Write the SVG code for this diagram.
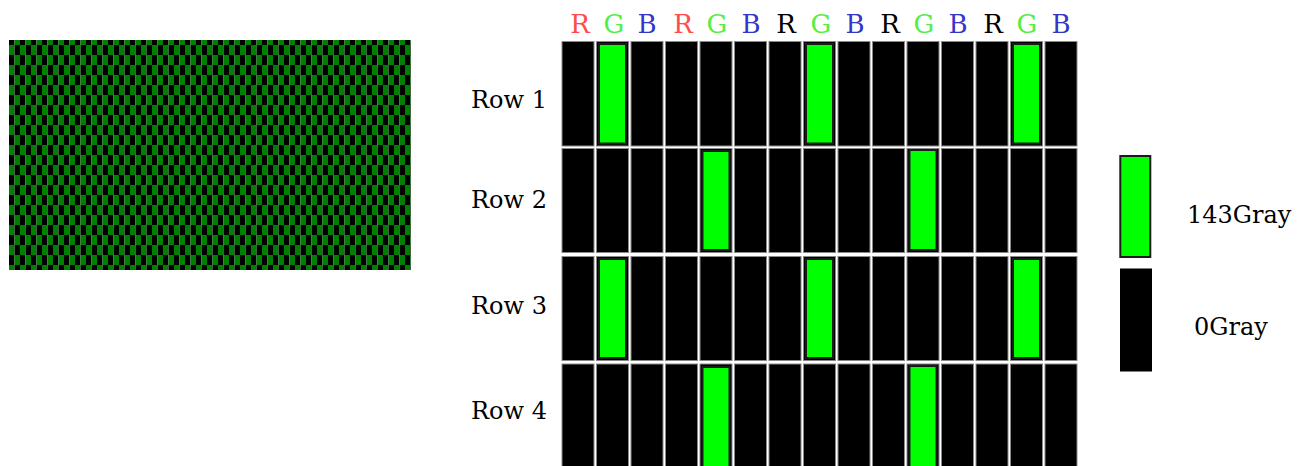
<svg xmlns="http://www.w3.org/2000/svg" width="1300" height="466" viewBox="0 0 1300 466">
<style>
.lbl{font-family:"DejaVu Serif","Liberation Serif",serif;font-size:24px;fill:#000}
.hd{font-family:"DejaVu Serif","Liberation Serif",serif;font-size:26px;text-anchor:middle}
.r{fill:#ff4b4b}.rk{fill:#000}.g{fill:#55ee44}.b{fill:#3535c8}
.cell{fill:#000;stroke:#8a8a8a;stroke-width:1}
.on{fill:#00ff00;stroke:#1a1a1a;stroke-width:2}
</style>
<defs>
<pattern id="chk" patternUnits="userSpaceOnUse" x="9" y="35" width="11" height="20">
<rect x="0" y="0" width="5.5" height="10" fill="#000"/>
<rect x="5.5" y="0" width="5.5" height="10" fill="#008000"/>
<rect x="0" y="10" width="5.5" height="10" fill="#008000"/>
<rect x="5.5" y="10" width="5.5" height="10" fill="#000"/>
</pattern>
</defs>
<rect width="1300" height="466" fill="#fff"/>
<g id="checkerboard">
<rect x="9" y="40" width="402" height="230" fill="url(#chk)" shape-rendering="crispEdges"/>
</g>
<g id="header">
<text class="hd r" x="580" y="33">R</text>
<text class="hd g" x="614" y="33">G</text>
<text class="hd b" x="647" y="33">B</text>
<text class="hd r" x="683" y="33">R</text>
<text class="hd g" x="717" y="33">G</text>
<text class="hd b" x="751" y="33">B</text>
<text class="hd rk" x="786" y="33">R</text>
<text class="hd g" x="821" y="33">G</text>
<text class="hd b" x="855" y="33">B</text>
<text class="hd rk" x="890" y="33">R</text>
<text class="hd g" x="924" y="33">G</text>
<text class="hd b" x="958" y="33">B</text>
<text class="hd rk" x="993" y="33">R</text>
<text class="hd g" x="1027" y="33">G</text>
<text class="hd b" x="1061" y="33">B</text>
</g>
<g id="row1">
<text class="lbl" x="547" y="108" text-anchor="end">Row 1</text>
<rect class="cell" x="562" y="41.5" width="32" height="104.5"/>
<rect class="cell" x="596.5" y="41.5" width="32" height="104.5"/>
<rect class="cell" x="631" y="41.5" width="32" height="104.5"/>
<rect class="cell" x="665.5" y="41.5" width="32" height="104.5"/>
<rect class="cell" x="700" y="41.5" width="32" height="104.5"/>
<rect class="cell" x="734.5" y="41.5" width="32" height="104.5"/>
<rect class="cell" x="769" y="41.5" width="32" height="104.5"/>
<rect class="cell" x="803.5" y="41.5" width="32" height="104.5"/>
<rect class="cell" x="838" y="41.5" width="32" height="104.5"/>
<rect class="cell" x="872.5" y="41.5" width="32" height="104.5"/>
<rect class="cell" x="907" y="41.5" width="32" height="104.5"/>
<rect class="cell" x="941.5" y="41.5" width="32" height="104.5"/>
<rect class="cell" x="976" y="41.5" width="32" height="104.5"/>
<rect class="cell" x="1010.5" y="41.5" width="32" height="104.5"/>
<rect class="cell" x="1045" y="41.5" width="32" height="104.5"/>
<rect class="on" x="599" y="44" width="27" height="99.5"/>
<rect class="on" x="806" y="44" width="27" height="99.5"/>
<rect class="on" x="1013" y="44" width="27" height="99.5"/>
</g>
<g id="row2">
<text class="lbl" x="547" y="208" text-anchor="end">Row 2</text>
<rect class="cell" x="562" y="148.5" width="32" height="104"/>
<rect class="cell" x="596.5" y="148.5" width="32" height="104"/>
<rect class="cell" x="631" y="148.5" width="32" height="104"/>
<rect class="cell" x="665.5" y="148.5" width="32" height="104"/>
<rect class="cell" x="700" y="148.5" width="32" height="104"/>
<rect class="cell" x="734.5" y="148.5" width="32" height="104"/>
<rect class="cell" x="769" y="148.5" width="32" height="104"/>
<rect class="cell" x="803.5" y="148.5" width="32" height="104"/>
<rect class="cell" x="838" y="148.5" width="32" height="104"/>
<rect class="cell" x="872.5" y="148.5" width="32" height="104"/>
<rect class="cell" x="907" y="148.5" width="32" height="104"/>
<rect class="cell" x="941.5" y="148.5" width="32" height="104"/>
<rect class="cell" x="976" y="148.5" width="32" height="104"/>
<rect class="cell" x="1010.5" y="148.5" width="32" height="104"/>
<rect class="cell" x="1045" y="148.5" width="32" height="104"/>
<rect class="on" x="702.5" y="151" width="27" height="99"/>
<rect class="on" x="909.5" y="150" width="27" height="100"/>
</g>
<g id="row3">
<text class="lbl" x="547" y="314" text-anchor="end">Row 3</text>
<rect class="cell" x="562" y="256.5" width="32" height="104"/>
<rect class="cell" x="596.5" y="256.5" width="32" height="104"/>
<rect class="cell" x="631" y="256.5" width="32" height="104"/>
<rect class="cell" x="665.5" y="256.5" width="32" height="104"/>
<rect class="cell" x="700" y="256.5" width="32" height="104"/>
<rect class="cell" x="734.5" y="256.5" width="32" height="104"/>
<rect class="cell" x="769" y="256.5" width="32" height="104"/>
<rect class="cell" x="803.5" y="256.5" width="32" height="104"/>
<rect class="cell" x="838" y="256.5" width="32" height="104"/>
<rect class="cell" x="872.5" y="256.5" width="32" height="104"/>
<rect class="cell" x="907" y="256.5" width="32" height="104"/>
<rect class="cell" x="941.5" y="256.5" width="32" height="104"/>
<rect class="cell" x="976" y="256.5" width="32" height="104"/>
<rect class="cell" x="1010.5" y="256.5" width="32" height="104"/>
<rect class="cell" x="1045" y="256.5" width="32" height="104"/>
<rect class="on" x="599" y="259" width="27" height="99"/>
<rect class="on" x="806" y="259" width="27" height="99"/>
<rect class="on" x="1013" y="259" width="27" height="99"/>
</g>
<g id="row4">
<text class="lbl" x="547" y="419" text-anchor="end">Row 4</text>
<rect class="cell" x="562" y="364" width="32" height="106"/>
<rect class="cell" x="596.5" y="364" width="32" height="106"/>
<rect class="cell" x="631" y="364" width="32" height="106"/>
<rect class="cell" x="665.5" y="364" width="32" height="106"/>
<rect class="cell" x="700" y="364" width="32" height="106"/>
<rect class="cell" x="734.5" y="364" width="32" height="106"/>
<rect class="cell" x="769" y="364" width="32" height="106"/>
<rect class="cell" x="803.5" y="364" width="32" height="106"/>
<rect class="cell" x="838" y="364" width="32" height="106"/>
<rect class="cell" x="872.5" y="364" width="32" height="106"/>
<rect class="cell" x="907" y="364" width="32" height="106"/>
<rect class="cell" x="941.5" y="364" width="32" height="106"/>
<rect class="cell" x="976" y="364" width="32" height="106"/>
<rect class="cell" x="1010.5" y="364" width="32" height="106"/>
<rect class="cell" x="1045" y="364" width="32" height="106"/>
<rect class="on" x="702.5" y="367" width="27" height="102"/>
<rect class="on" x="909.5" y="366" width="27" height="103"/>
</g>
<g id="legend">
<rect class="on" x="1120.3" y="156" width="30" height="101"/>
<rect x="1120" y="268.5" width="32" height="103" fill="#000"/>
<text class="lbl" x="1187" y="223">143Gray</text>
<text class="lbl" x="1194" y="335">0Gray</text>
</g>
</svg>
